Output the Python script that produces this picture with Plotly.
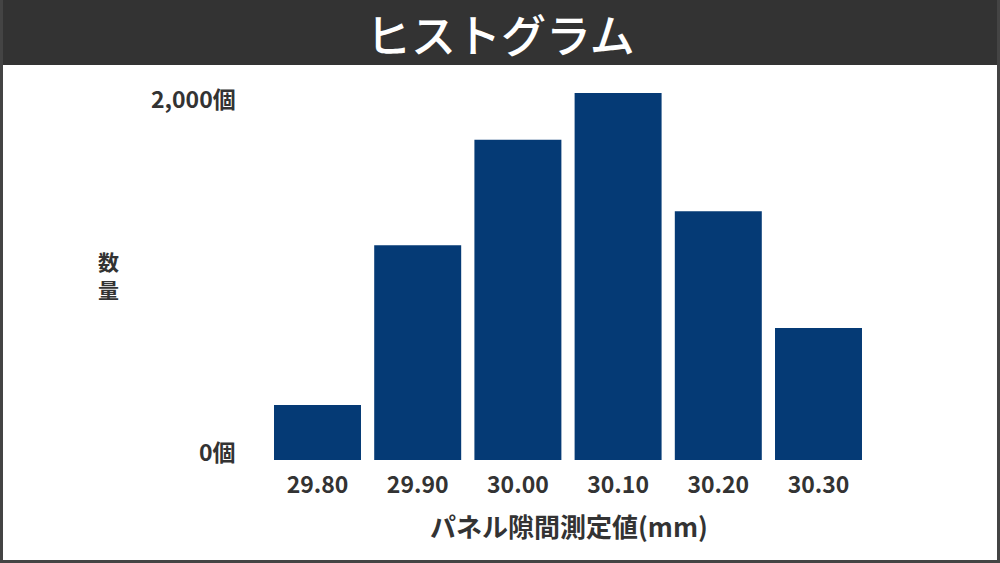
import plotly.graph_objects as go

categories = ["29.80", "29.90", "30.00", "30.10", "30.20", "30.30"]
counts = [300, 1170, 1745, 2000, 1355, 720]
y_tick_values = [0, 2000]
y_tick_labels = ["0個", "2,000個"]
title_text = "ヒストグラム"
x_title = "パネル隙間測定値(mm)"
y_title_chars = ["数", "量"]

W, H = 1000, 563
FONT = "Noto Sans CJK JP"
TXT = "#333333"

fig = go.Figure(go.Bar(x=categories, y=counts, marker=dict(color="#053a75", line=dict(width=0))))

def px_x(v):
    return v / W

def px_y(v):
    return (H - v) / H

fig.update_layout(
    width=W, height=H,
    margin=dict(l=0, r=0, t=0, b=0),
    paper_bgcolor="white", plot_bgcolor="white",
    bargap=0.132,
    showlegend=False,
    font=dict(family=FONT, color=TXT),
    xaxis=dict(domain=[px_x(267.4), px_x(868.6)], showgrid=False, zeroline=False,
               showline=False, ticks="", showticklabels=True,
               tickfont=dict(size=23, family=FONT, color=TXT, weight="bold"),
               ticklabelstandoff=9),
    yaxis=dict(domain=[px_y(460), px_y(93)], range=[0, 2000], showgrid=False,
               zeroline=False, showline=False, ticks="", showticklabels=False),
)

shapes = [
    dict(type="rect", xref="paper", yref="paper", x0=0, x1=1, y0=px_y(65), y1=1,
         fillcolor="#333333", line=dict(width=0), layer="below"),
    dict(type="rect", xref="paper", yref="paper", x0=0, x1=px_x(3), y0=0, y1=1,
         fillcolor="#444444", line=dict(width=0)),
    dict(type="rect", xref="paper", yref="paper", x0=px_x(997), x1=1, y0=0, y1=1,
         fillcolor="#444444", line=dict(width=0)),
    dict(type="rect", xref="paper", yref="paper", x0=0, x1=1, y0=0, y1=px_y(560),
         fillcolor="#444444", line=dict(width=0)),
]
fig.update_layout(shapes=shapes)

annotations = [
    dict(text=title_text, xref="paper", yref="paper", x=0.5, y=px_y(33),
         xanchor="center", yanchor="middle", showarrow=False,
         font=dict(size=45, color="white", family=FONT, weight=500)),
    dict(text=x_title, xref="paper", yref="paper", x=px_x(569), y=px_y(525),
         xanchor="center", yanchor="middle", showarrow=False,
         font=dict(size=26, color=TXT, family=FONT, weight="bold")),
]
for i, ch in enumerate(y_title_chars):
    annotations.append(dict(text=ch, xref="paper", yref="paper", x=px_x(108),
                            y=px_y(261 + 28 * i), xanchor="center", yanchor="middle",
                            showarrow=False,
                            font=dict(size=21, color=TXT, family=FONT, weight="bold")))
shifts = {0: 9, 2000: -5}
for v, t in zip(y_tick_values, y_tick_labels):
    annotations.append(dict(text=t, xref="paper", yref="y", x=px_x(238), y=v,
                            xanchor="right", yanchor="middle", showarrow=False,
                            yshift=shifts.get(v, 0),
                            font=dict(size=23, color=TXT, family=FONT, weight="bold")))
fig.update_layout(annotations=annotations)

fig.write_html("out.html")
